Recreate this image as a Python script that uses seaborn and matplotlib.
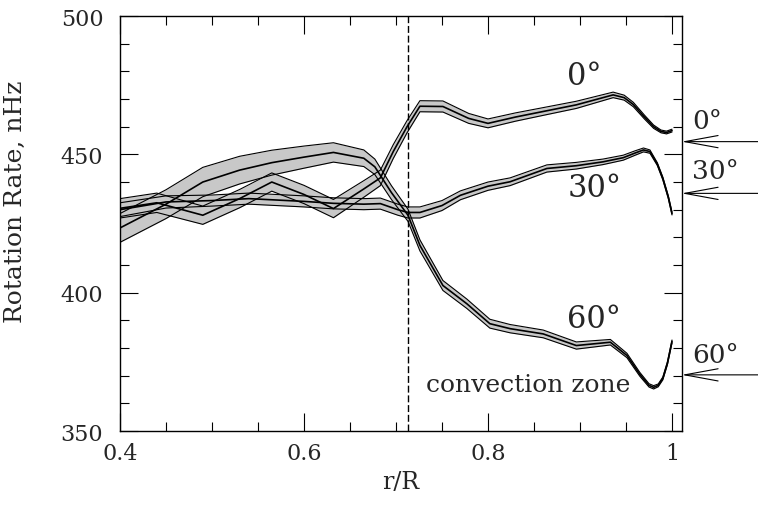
import pandas as pd
import seaborn as sns
import matplotlib.pyplot as plt
from matplotlib.ticker import MultipleLocator, FuncFormatter

# Rotation rate vs radius at the equator (0 deg): center and error half-width
r_eq = [0.40, 0.44, 0.49, 0.53, 0.565, 0.60, 0.632, 0.665, 0.683, 0.697, 0.712,
        0.726, 0.751, 0.779, 0.800, 0.830, 0.860, 0.896, 0.936, 0.948, 0.958, 0.970,
        0.980, 0.988, 0.994, 1.000]
rate_eq = [430.5, 432.5, 428.0, 434.0, 440.0, 435.5, 430.4, 437.5, 441.5, 451.0, 460.0,
           467.4, 467.3, 463.0, 461.2, 463.5, 465.5, 467.9, 471.5, 470.5, 468.0, 463.5,
           460.0, 458.3, 457.9, 458.6]
err_eq = [3.5, 3.5, 3.3, 3.3, 3.3, 3.3, 3.3, 3.0, 2.8, 2.5, 2.2,
          2.0, 2.0, 1.8, 1.6, 1.5, 1.4, 1.3, 1.0, 0.9, 0.8, 0.7,
          0.6, 0.5, 0.5, 0.5]

# 30 deg latitude
r_30 = [0.40, 0.45, 0.50, 0.54, 0.60, 0.632, 0.665, 0.683, 0.702, 0.713, 0.726, 0.750,
        0.770, 0.800, 0.824, 0.864, 0.896, 0.925, 0.947, 0.960, 0.969, 0.976, 0.984,
        0.990, 0.996, 1.000]
rate_30 = [430.0, 432.8, 433.3, 434.0, 433.0, 432.3, 432.0, 432.2, 430.0, 429.0, 429.0, 431.5,
           435.2, 438.5, 440.1, 444.9, 445.9, 447.3, 448.8, 450.5, 451.6, 451.0, 446.5,
           441.3, 434.5, 428.6]
err_30 = [2.5, 2.2, 2.0, 2.0, 2.0, 2.0, 2.0, 2.0, 2.0, 2.0, 2.0, 1.8,
          1.6, 1.5, 1.4, 1.3, 1.2, 1.0, 0.9, 0.8, 0.7, 0.6, 0.5,
          0.5, 0.5, 0.5]

# 60 deg latitude
r_60 = [0.40, 0.45, 0.49, 0.53, 0.565, 0.60, 0.632, 0.665, 0.677, 0.695, 0.713, 0.726,
        0.751, 0.777, 0.802, 0.824, 0.860, 0.896, 0.933, 0.951, 0.965, 0.975, 0.980,
        0.985, 0.990, 0.995, 1.000]
rate_60 = [423.4, 432.0, 440.0, 444.3, 447.0, 449.0, 450.7, 448.6, 445.5, 436.2, 428.0, 417.1,
           402.6, 396.0, 388.8, 387.0, 385.1, 380.9, 382.1, 377.3, 370.5, 366.5, 365.8,
           366.5, 369.0, 374.5, 382.4]
err_60 = [5.2, 5.2, 5.3, 5.0, 4.5, 4.0, 3.5, 3.0, 2.8, 2.5, 2.2, 2.0,
          1.8, 1.7, 1.6, 1.5, 1.4, 1.3, 1.0, 0.8, 0.7, 0.6, 0.6,
          0.5, 0.5, 0.5, 0.5]

# Surface rates marked by arrows on the right side
surface_labels = ['0°', '30°', '60°']
surface_rates = [454.6, 435.9, 370.3]
surface_label_y = [459.4, 441.3, 375.0]

# Curve labels inside the plot
curve_labels = ['0°', '30°', '60°']
curve_label_y = [475.4, 435.1, 387.7]

# Base of the convection zone
base_cz = 0.713

sns.set_theme(style='ticks')
plt.rcParams['font.family'] = ['DejaVu Serif']

fig = plt.figure(figsize=(7.58, 5.10), dpi=100)
ax = fig.add_axes([0.1583, 0.1529, 0.7410, 0.8137])

profiles = [(r_eq, rate_eq, err_eq), (r_30, rate_30, err_30), (r_60, rate_60, err_60)]
for r, rate, err in profiles:
    df = pd.DataFrame({'r': r, 'rate': rate, 'err': err})
    df['lo'] = df['rate'] - df['err']
    df['hi'] = df['rate'] + df['err']
    ax.fill_between(df['r'], df['lo'], df['hi'], color='#c8c8c8', lw=0)
    sns.lineplot(data=df, x='r', y='lo', color='black', lw=0.8, ax=ax)
    sns.lineplot(data=df, x='r', y='hi', color='black', lw=0.8, ax=ax)
    sns.lineplot(data=df, x='r', y='rate', color='black', lw=1.2, ax=ax)

# Dashed line at the base of the convection zone
ax.axvline(base_cz, color='black', lw=1.0, ls=(0, (5, 2)))

for lab, y in zip(curve_labels, curve_label_y):
    ax.text(0.886, y, lab, fontsize=22, va='baseline', ha='left')
ax.text(0.7326, 364.5, 'convection zone', fontsize=18, va='baseline', ha='left')

# Arrows for surface rates, outside the frame
for lab, rate, ly in zip(surface_labels, surface_rates, surface_label_y):
    ax.annotate('', xy=(1.0, rate), xytext=(1.136, rate),
                xycoords=('axes fraction', 'data'), textcoords=('axes fraction', 'data'),
                arrowprops=dict(arrowstyle='->,head_length=1.2,head_width=0.22',
                                mutation_scale=20, lw=0.8, color='black',
                                shrinkA=0, shrinkB=0),
                annotation_clip=False)
    ax.text(1.0217, ly, lab, fontsize=19, va='baseline', ha='left', clip_on=False)

ax.set_xlim(0.4, 1.0105)
ax.set_ylim(350, 500)
ax.xaxis.set_major_locator(MultipleLocator(0.2))
ax.xaxis.set_minor_locator(MultipleLocator(0.05))
ax.yaxis.set_major_locator(MultipleLocator(50))
ax.yaxis.set_minor_locator(MultipleLocator(10))
ax.xaxis.set_major_formatter(FuncFormatter(lambda v, p: '1' if abs(v - 1) < 1e-6 else f'{v:.1f}'))
ax.tick_params(which='both', direction='in', top=True, right=True, width=0.8, color='black')
ax.tick_params(which='major', length=13, labelsize=16)
ax.tick_params(axis='x', which='major', pad=8)
ax.tick_params(axis='y', which='major', pad=12)
ax.tick_params(which='minor', length=6.5)
for s in ax.spines.values():
    s.set_linewidth(1.0)
    s.set_color('black')

ax.set_xlabel('r/R', fontsize=17, labelpad=4)
ax.set_ylabel('Rotation Rate, nHz', fontsize=18)
ax.yaxis.set_label_coords(-0.165, 0.554)

fig.savefig('out.png', dpi=100)
